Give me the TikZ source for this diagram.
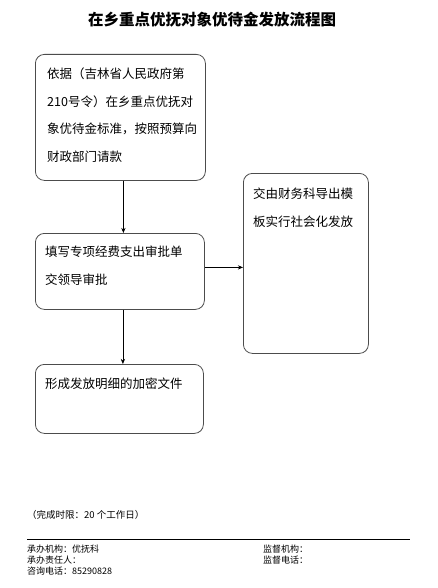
\documentclass[tikz,border=0pt]{standalone}
\usepackage{fontspec}
\setmainfont{Noto Sans CJK SC}
\usetikzlibrary{arrows.meta,positioning}

\begin{document}
\begin{tikzpicture}[x=1pt,y=-1pt,
    box/.style={draw=black!70,line width=.8pt,rounded corners=9pt,anchor=north west,inner sep=0pt},
    txt/.style={anchor=north west,align=left,inner sep=0pt,font=\fontsize{12.5}{27.5}\selectfont},
    foot/.style={anchor=base west,inner sep=0pt,font=\fontsize{9}{11}\selectfont},
    e/.style={-{Stealth[length=1.8mm,width=1.5mm]},line width=.7pt}
  ]
    \useasboundingbox[fill=white] (0,0) rectangle (437,588);
    \node[font=\fontsize{15.5}{18}\bfseries] (title) at (212,20) {在乡重点优抚对象优待金发放流程图};
    % boxes
    \node[box,minimum width=170,minimum height=126] (b1) at (35,54) {};
    \node[box,minimum width=169,minimum height=76] (b2) at (35,233) {};
    \node[box,minimum width=168,minimum height=69] (b3) at (35,364) {};
    \node[box,minimum width=125,minimum height=180] (b4) at (243,173) {};
    \node[txt] (t1) at (47,68) {依据（吉林省人民政府第\\210号令）在乡重点优抚对\\象优待金标准，按照预算向\\财政部门请款};
    \node[txt] (t2) at (45,246) {填写专项经费支出审批单\\交领导审批};
    \node[txt] (t3) at (45,378) {形成发放明细的加密文件};
    \node[txt] (t4) at (253,188) {交由财务科导出模\\板实行社会化发放};
    \draw[e] ([xshift=3pt]b1.south) -- ([xshift=3pt]b1.south |- b2.north);
    \draw[e] ([xshift=3pt]b2.south) -- ([xshift=3pt]b2.south |- b3.north);
    \draw[e] ([yshift=4pt]b2.east) -- ([yshift=4pt]b2.east -| b4.west);
    % footer
    \node[foot,font=\fontsize{9.5}{11}\selectfont] (lim) at (27,518) {（完成时限：20 个工作日）};
    \coordinate (ll) at (27,539); \coordinate (lr) at (410,539);
    \draw[line width=.9pt] (ll) -- (lr);
    \node[foot] (f1) at (27,552) {承办机构：优抚科};
    \node[foot] (f2) at (27,563) {承办责任人：};
    \node[foot] (f3) at (27,574) {咨询电话：85290828};
    \node[foot] (f4) at (263,552) {监督机构：};
    \node[foot] (f5) at (263,563) {监督电话：};
  \end{tikzpicture}
\end{document}
